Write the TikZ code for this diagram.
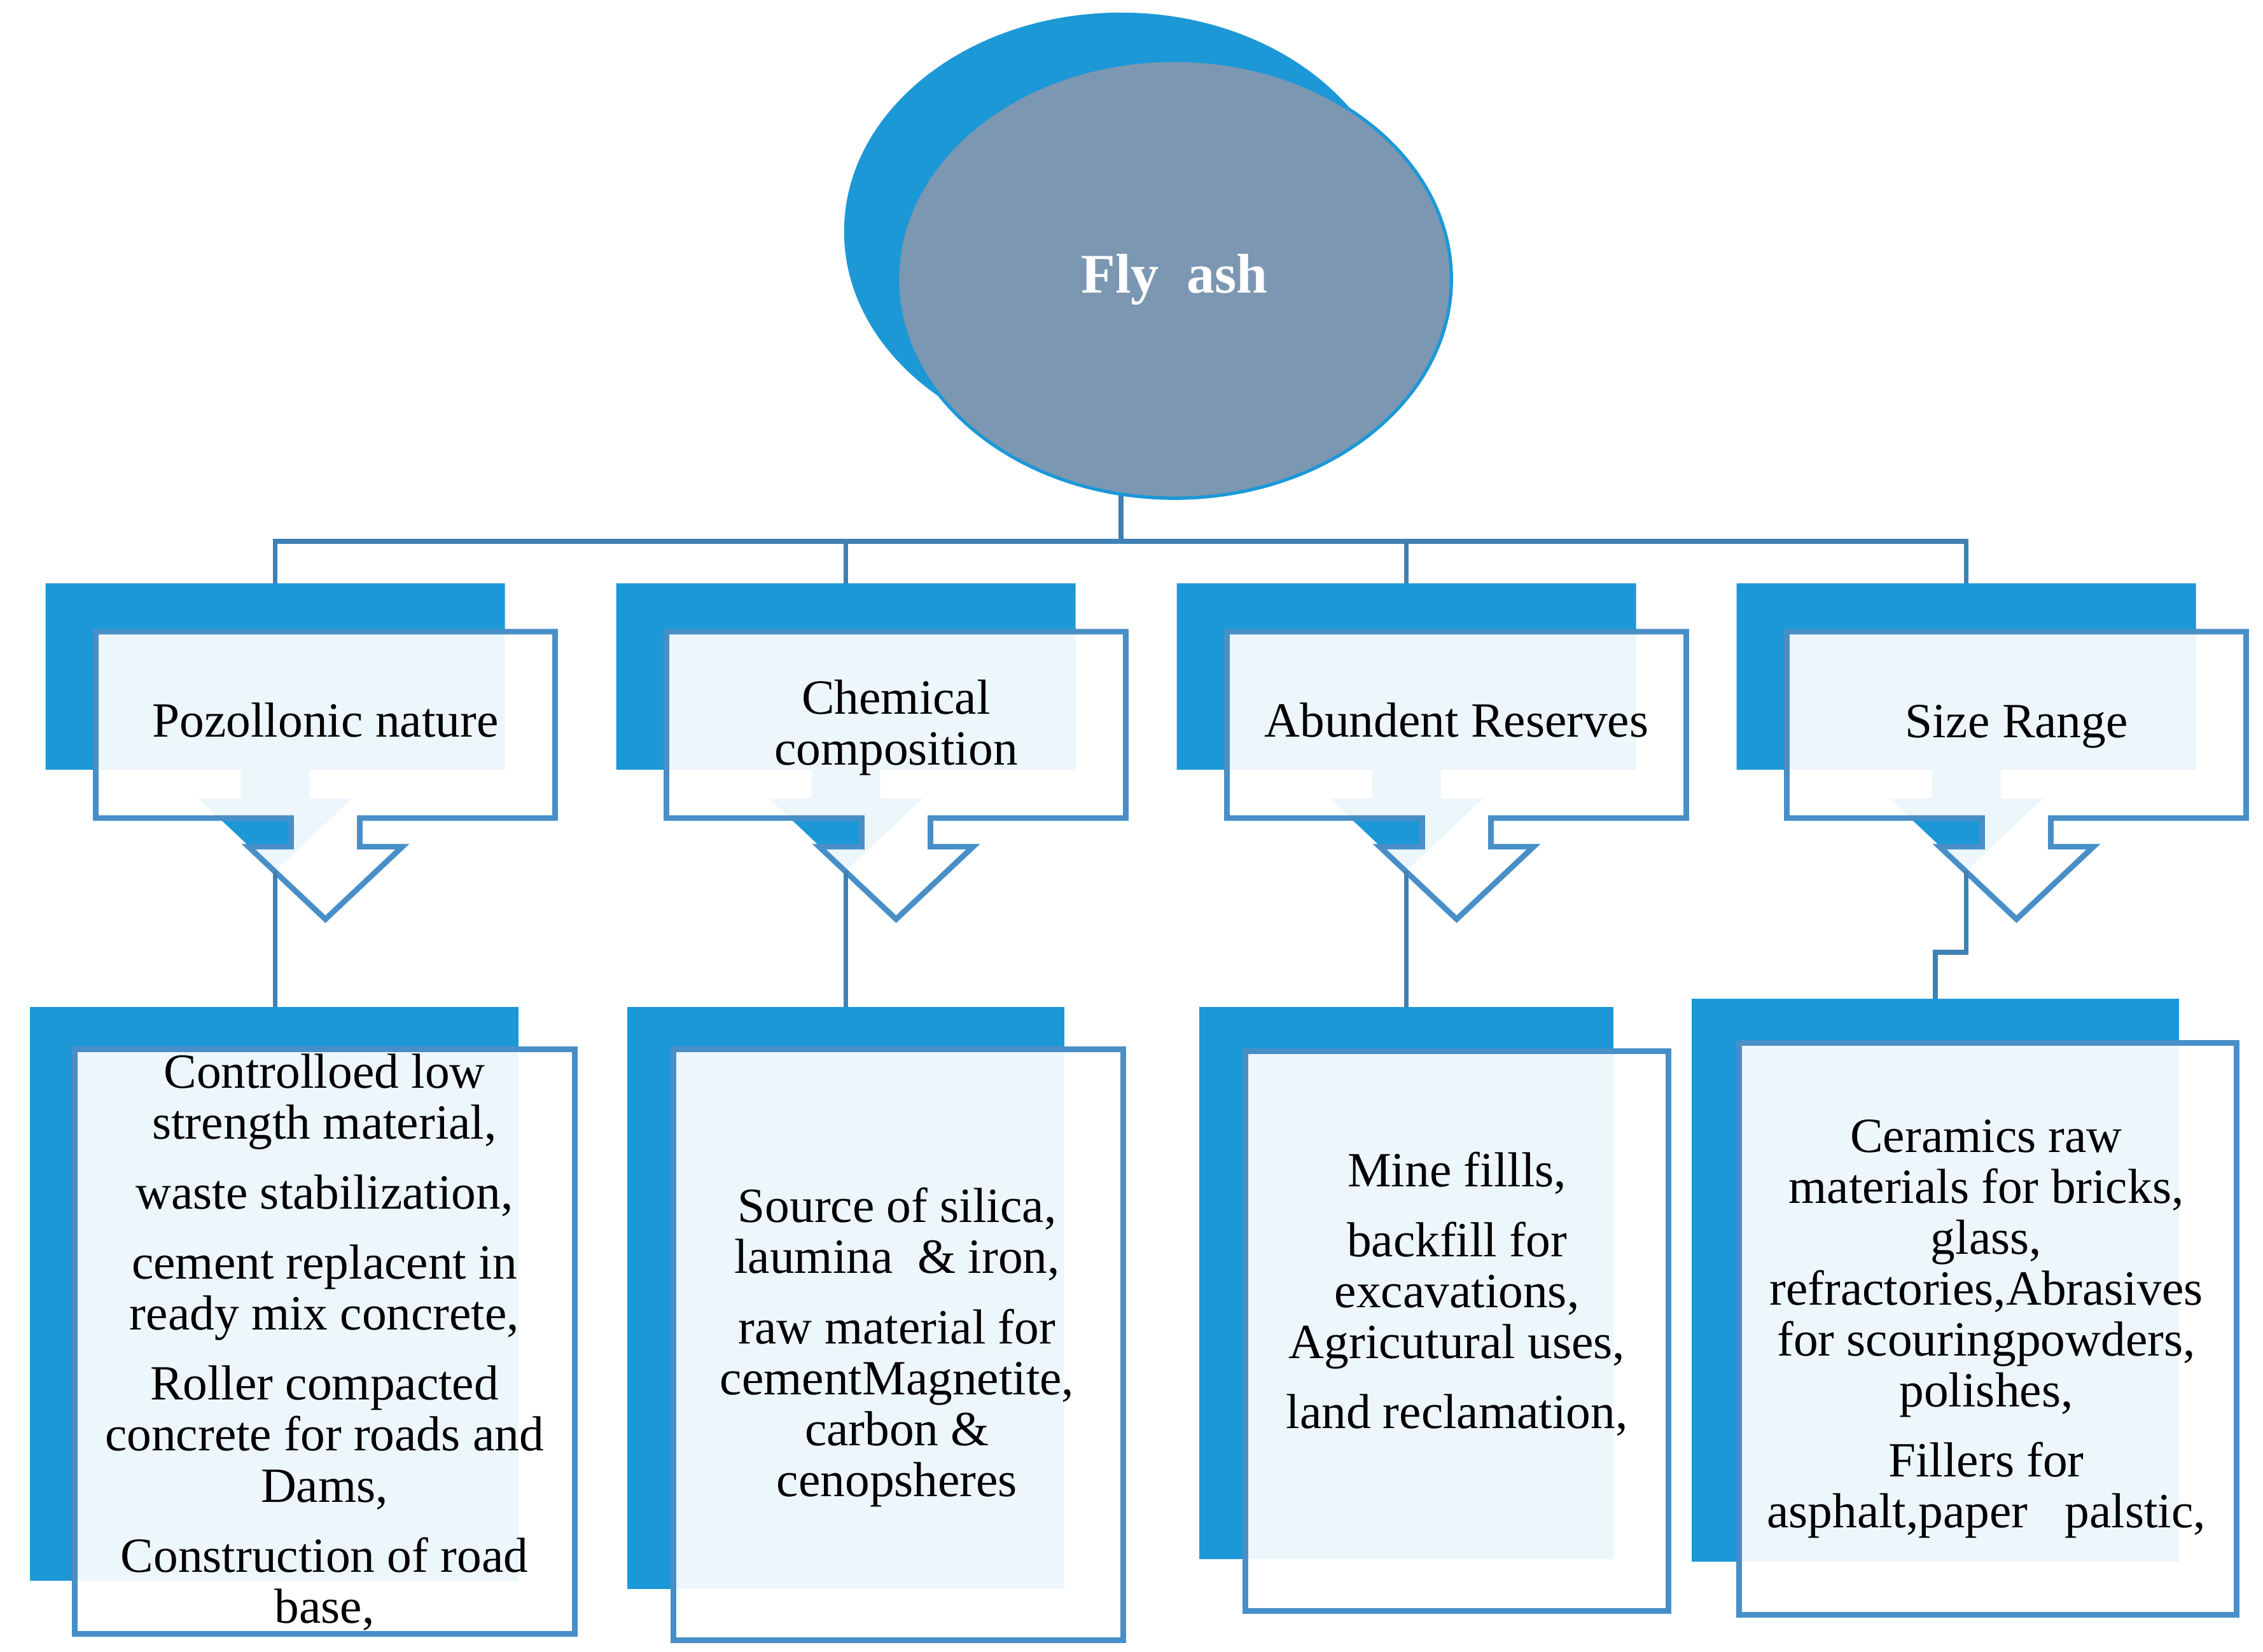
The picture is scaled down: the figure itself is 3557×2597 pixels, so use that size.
\documentclass[tikz,border=0pt]{standalone}
\usepackage{fontspec}
\setmainfont{Liberation Serif}
\usetikzlibrary{shapes.geometric}

\definecolor{backblue}{RGB}{28,152,215}
\definecolor{edgeblue}{RGB}{72,143,200}
\definecolor{linkblue}{RGB}{64,128,180}
\definecolor{ashgray}{RGB}{124,151,178}

\tikzset{
  backshape/.style={fill=backblue},
  backbox/.style={fill=backblue, inner sep=0pt, outer sep=0pt},
  frontshape/.style={draw=edgeblue, line width=2.5pt, fill=white, fill opacity=0.92},
  frontbox/.style={frontshape, inner sep=0pt, outer sep=0pt},
  link/.style={draw=linkblue, line width=2.2pt},
  headtext/.style={font=\fontsize{22}{22.76}\selectfont, align=center, inner sep=0pt},
  bodytext/.style={font=\fontsize{22}{22.76}\selectfont, align=center, inner sep=0pt}
}

\newcommand{\calloutoutline}[2]{%
  \path[#1] (#2-361,993) -- (#2+361,993) -- (#2+361,1286) -- (#2+54,1286) -- (#2+54,1331)
    -- (#2+121,1331) -- (#2,1445) -- (#2-121,1331) -- (#2-54,1331) -- (#2-54,1286)
    -- (#2-361,1286) -- cycle;}
\newcommand{\callout}[2]{%
  \calloutoutline{backshape, shift={(-79,-76)}}{#2}
  \calloutoutline{frontshape}{#2}
  \coordinate (#1-top) at (#2-79,917);
  \coordinate (#1-tip) at (#2-79,1369);}

\begin{document}
\begin{tikzpicture}[x=0.01cm, y=-0.01cm]
    \useasboundingbox (0,0) rectangle (3557,2597);

    \coordinate (bus) at (1762,851);
    \node (ashback) at (1762,364) [ellipse, fill=backblue, minimum width=8.7cm, minimum height=6.88cm, inner sep=0pt] {};
    \draw [link] (ashback.south) -- (bus);
    \node (ash) at (1846,439) [ellipse, fill=ashgray, draw=backblue, line width=1.5pt, minimum width=8.7cm, minimum height=6.88cm, inner sep=0pt, text=white, font=\fontsize{25}{30}\selectfont\bfseries] {Fly\ \ ash};

    \callout{pozz}{511.5}
    \callout{chem}{1408.5}
    \callout{abun}{2289.5}
    \callout{size}{3169.5}

    \node (pozz) at (511.5,1158) [headtext, anchor=base] {Pozollonic nature};
    \node (chem) at (1408.5,1144) [headtext] {Chemical\\composition};
    \node (abun) at (2289.5,1158) [headtext, anchor=base] {Abundent Reserves};
    \node (size) at (3169.5,1159) [headtext, anchor=base] {Size Range};

    \node (ctlback) at (431,2034) [backbox, minimum width=7.68cm, minimum height=9.02cm] {};
    \node (ctlbox) at (510.5,2109) [frontbox, minimum width=7.85cm, minimum height=9.18cm] {};
    \node (srcback) at (1329.5,2040.5) [backbox, minimum width=6.87cm, minimum height=9.15cm] {};
    \node (srcbox) at (1412,2114) [frontbox, minimum width=7.06cm, minimum height=9.28cm] {};
    \node (mineback) at (2210.5,2017) [backbox, minimum width=6.51cm, minimum height=8.68cm] {};
    \node (minebox) at (2290,2092.5) [frontbox, minimum width=6.64cm, minimum height=8.79cm] {};
    \node (ceramback) at (3042,2012.5) [backbox, minimum width=7.66cm, minimum height=8.85cm] {};
    \node (ceramboxx) at (3124.5,2089) [frontbox, minimum width=7.81cm, minimum height=8.98cm] {};

    \node (ctltext) at (510,2110) [bodytext] {Controlloed low\\strength material,\\[0.3cm]waste stabilization,\\[0.3cm]cement replacent in\\ready mix concrete,\\[0.3cm]Roller compacted\\concrete for roads and\\Dams,\\[0.3cm]Construction of road\\base,};
    \node (srctext) at (1410,2118) [bodytext] {Source of silica,\\laumina\ \ \& iron,\\[0.3cm]raw\ material for\\cementMagnetite,\\carbon \&\\cenopsheres};
    \node (minetext) at (2290,2034) [bodytext] {Mine fillls,\\[0.3cm]backfill for\\excavations,\\Agricutural uses,\\[0.3cm]land reclamation,};
    \node (ceramtext) at (3122,2089) [bodytext] {Ceramics raw\\materials for bricks,\\glass,\\refractories,Abrasives\\for scouringpowders,\\polishes,\\[0.3cm]Fillers for\\asphalt,paper\ \ \ palstic,};

    \foreach \n in {pozz,chem,abun,size}
        \draw [link] (bus) -| (\n-top);
    \draw [link] (pozz-tip) -- (pozz-tip |- ctlback.north);
    \draw [link] (chem-tip) -- (chem-tip |- srcback.north);
    \draw [link] (abun-tip) -- (abun-tip |- mineback.north);
    \draw [link] (size-tip) -- ++(0,128) -| (ceramback.north);
\end{tikzpicture}
\end{document}
